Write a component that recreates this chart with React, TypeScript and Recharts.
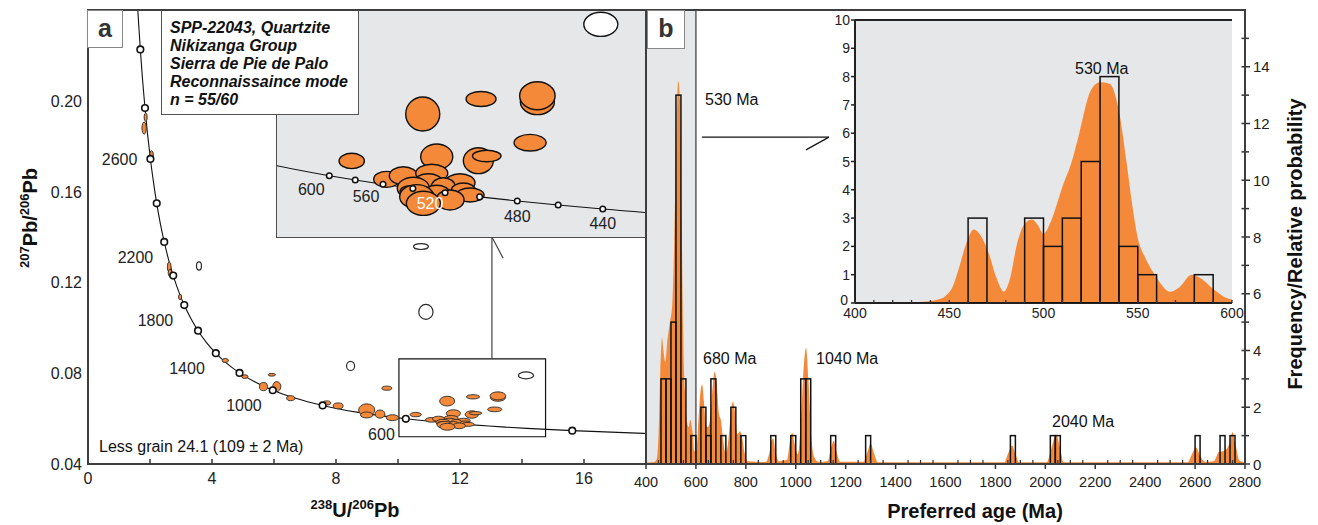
import React from 'react';
import { ComposedChart, Line, Area, Scatter, XAxis, YAxis, ReferenceLine, ReferenceArea } from 'recharts';

const FONT = '"Liberation Sans", Arial, Helvetica, sans-serif';
const ORANGE = '#f5893a';
const PANEL_GRAY = '#e6e7e9';
const FRAME = '#3e3e3e';

// ---------- Panel a data ----------
// Concordia reference curve: [age (Ma), 238U/206Pb, 207Pb/206Pb]
const concordia: [number, number, number][] = [
  [340, 18.465, 0.05327], [350, 17.923, 0.0535], [400, 15.621, 0.0547], [440, 14.157, 0.05569],
  [460, 13.52, 0.0562], [480, 12.936, 0.05671], [500, 12.399, 0.05722], [520, 11.905, 0.05775],
  [540, 11.445, 0.05828], [560, 11.019, 0.05881], [580, 10.622, 0.05935], [600, 10.252, 0.0599],
  [650, 9.426, 0.06131], [700, 8.718, 0.06276], [750, 8.105, 0.06425], [800, 7.568, 0.0658],
  [900, 6.674, 0.06905], [1000, 5.959, 0.0725], [1100, 5.375, 0.07619], [1200, 4.888, 0.08013],
  [1300, 4.476, 0.08432], [1400, 4.123, 0.08881], [1500, 3.817, 0.0936], [1600, 3.55, 0.09872],
  [1700, 3.314, 0.10419], [1800, 3.105, 0.11003], [1900, 2.918, 0.11629], [2000, 2.749, 0.12299],
  [2100, 2.597, 0.13016], [2200, 2.459, 0.13782], [2300, 2.332, 0.14603], [2400, 2.217, 0.15483],
  [2500, 2.111, 0.16427], [2600, 2.013, 0.17438], [2700, 1.922, 0.18523], [2800, 1.838, 0.19682],
  [2900, 1.76, 0.20927], [3000, 1.688, 0.22265], [3100, 1.619, 0.237], [3200, 1.556, 0.2524],
];
const markerAgesMain = [400, 600, 800, 1000, 1200, 1400, 1600, 1800, 2000, 2200, 2400, 2600, 2800, 3000];
const labelAgesMain = [600, 1000, 1400, 1800, 2200, 2600];
const markerAgesInset = [440, 460, 480, 500, 520, 540, 560, 580, 600];
const labelAgesInset = [440, 480, 520, 560, 600];

// grains: [238U/206Pb, 207Pb/206Pb, half-axis x, half-axis y]
const youngGrains: [number, number, number, number][] = [
  [11.586, 0.0677, 0.243, 0.00215],
  [12.419, 0.0696, 0.214, 0.00095],
  [13.223, 0.06926, 0.243, 0.00164],
  [13.223, 0.07001, 0.253, 0.00177],
  [13.119, 0.06407, 0.229, 0.00105],
  [11.786, 0.0623, 0.229, 0.00161],
  [10.572, 0.06176, 0.181, 0.00097],
  [12.38, 0.0618, 0.214, 0.00164],
  [12.5, 0.06239, 0.204, 0.00072],
  [11.072, 0.05944, 0.186, 0.00101],
  [11.309, 0.0599, 0.2, 0.00114],
  [11.715, 0.0602, 0.229, 0.00114],
  [12.119, 0.05901, 0.214, 0.00114],
  [11.666, 0.05914, 0.2, 0.00101],
  [11.88, 0.05851, 0.171, 0.00114],
  [12.166, 0.05809, 0.171, 0.00088],
  [12.262, 0.05746, 0.2, 0.00088],
  [11.452, 0.05831, 0.229, 0.00139],
  [11.405, 0.05788, 0.143, 0.00076],
  [11.786, 0.05768, 0.186, 0.00101],
  [11.976, 0.05683, 0.2, 0.00126],
  [11.5, 0.05725, 0.243, 0.00152],
  [11.595, 0.05641, 0.243, 0.00152],
];
const youngRejected: [number, number, number, number][] = [
  [14.129, 0.07904, 0.243, 0.00152],
];
const oldGrains: [number, number, number, number][] = [
  [1.86, 0.1928, 0.05, 0.0018],
  [1.81, 0.188, 0.07, 0.0027],
  [2.05, 0.1758, 0.06, 0.0022],
  [2.62, 0.1268, 0.06, 0.0022],
  [2.645, 0.1242, 0.06, 0.0015],
  [2.97, 0.1136, 0.05, 0.0012],
  [4.43, 0.0856, 0.1, 0.0009],
  [5.06, 0.0785, 0.1, 0.0008],
  [5.93, 0.0793, 0.12, 0.0006],
  [5.66, 0.0741, 0.13, 0.0018],
  [6.09, 0.0741, 0.13, 0.0022],
  [6.54, 0.069, 0.13, 0.0011],
  [7.7, 0.0669, 0.13, 0.0009],
  [8.07, 0.0656, 0.16, 0.0013],
  [8.99, 0.0638, 0.26, 0.0027],
  [8.99, 0.0616, 0.2, 0.0013],
  [9.42, 0.062, 0.16, 0.0018],
  [9.82, 0.0604, 0.2, 0.0013],
  [9.64, 0.0734, 0.16, 0.0009],
];
const oldRejected: [number, number, number, number][] = [
  [3.58, 0.1272, 0.08, 0.0018],
  [8.47, 0.0832, 0.13, 0.002],
  [10.74, 0.1358, 0.24, 0.0013],
  [10.9, 0.107, 0.23, 0.0033],
];
const xTicksA = [0, 2, 4, 6, 8, 10, 12, 14, 16];
const yTicksA = [0.04, 0.08, 0.12, 0.16, 0.2];

// ---------- Panel b data ----------
// histogram, 20 Ma bins: [bin start (Ma), count]
const mainBins: [number, number][] = [
  [460, 3], [480, 3], [500, 5], [520, 13], [540, 3], [580, 1], [620, 2], [640, 1], [660, 3],
  [700, 1], [740, 2], [780, 1], [900, 1], [980, 1], [1020, 3], [1040, 3], [1140, 1], [1280, 1],
  [1860, 1], [2020, 1], [2040, 1], [2600, 1], [2700, 1], [2740, 1],
];
// relative probability (scaled to the frequency axis): [age, value]
const mainDensity: [number, number][] = [
  [400, 0.05], [430, 0.06], [442, 0.15], [450, 1.0], [457, 3.2], [464, 4.45], [470, 4.0], [477, 3.6],
  [486, 4.4], [496, 5.0], [505, 5.6], [513, 7.8], [521, 11.3], [529, 13.5], [536, 12.8], [543, 8.5],
  [549, 4.6], [556, 2.6], [564, 1.5], [571, 1.3], [578, 1.55], [586, 1.15], [594, 0.45], [602, 0.5],
  [611, 1.7], [619, 2.6], [625, 2.8], [632, 2.2], [640, 1.4], [648, 1.3], [657, 1.6], [666, 2.6],
  [675, 3.25], [683, 2.9], [692, 1.8], [701, 1.5], [710, 0.8], [719, 0.4], [728, 0.7], [738, 1.6],
  [748, 2.2], [757, 1.8], [766, 1.05], [776, 1.15], [785, 0.95], [795, 0.4], [808, 0.1], [880, 0.07],
  [893, 0.35], [904, 0.85], [910, 0.9], [918, 0.5], [932, 0.1], [965, 0.15], [978, 0.9], [986, 1.1],
  [996, 0.7], [1008, 0.35], [1020, 1.4], [1031, 3.3], [1041, 4.1], [1051, 3.0], [1062, 1.0], [1074, 0.25],
  [1090, 0.08], [1128, 0.1], [1141, 0.55], [1152, 0.82], [1163, 0.45], [1178, 0.08], [1272, 0.08],
  [1288, 0.45], [1300, 0.72], [1313, 0.4], [1330, 0.06], [1835, 0.06], [1852, 0.4], [1867, 0.65],
  [1880, 0.35], [1895, 0.06], [2005, 0.06], [2024, 0.55], [2038, 0.95], [2046, 1.0], [2058, 0.6],
  [2074, 0.06], [2570, 0.06], [2590, 0.4], [2604, 0.58], [2620, 0.3], [2640, 0.08], [2675, 0.1],
  [2695, 0.42], [2710, 0.45], [2728, 0.55], [2740, 0.8], [2750, 1.12], [2762, 0.7], [2778, 0.12],
  [2800, 0.05],
];
// inset histogram, 10 Ma bins
const insetBins: [number, number][] = [
  [460, 3], [490, 3], [500, 2], [510, 3], [520, 5], [530, 8], [540, 2], [550, 1], [580, 1],
];
const insetDensity: [number, number][] = [
  [400, 0], [425, 0.01], [438, 0.05], [444, 0.12], [448, 0.25], [452, 0.6], [455, 1.2], [459, 2.1],
  [463, 2.6], [467, 2.35], [471, 1.75], [475, 0.9], [479, 0.4], [482, 0.8], [486, 2.1], [490, 2.8],
  [494, 2.95], [497, 2.75], [500, 2.45], [504, 2.9], [510, 4.1], [515, 5.0], [519, 6.0], [525, 7.5],
  [530, 7.8], [535, 7.75], [540, 6.8], [544, 5.0], [547, 3.5], [550, 2.3], [554, 1.6], [558, 1.1],
  [562, 0.7], [567, 0.4], [572, 0.55], [578.6, 1.0], [584, 0.85], [590, 0.5], [595, 0.25], [600, 0.12],
];
const highlightRange: [number, number] = [400, 600];
const xTicksBMajorStep = 200;
const xTicksB = Array.from({ length: 49 }, (_, i) => 400 + 50 * i);
const yTicksB = Array.from({ length: 16 }, (_, i) => i);
const xTicksInset = Array.from({ length: 21 }, (_, i) => 400 + 10 * i);
const yTicksInset = [0, 1, 2, 3, 4, 5, 6, 7, 8, 9, 10];

// ---------- geometry ----------
const A_DOM_X: [number, number] = [0, 18];
const A_DOM_Y: [number, number] = [0.04, 0.24];
const IA_DOM_X: [number, number] = [9.505, 14.76];
const IA_DOM_Y: [number, number] = [0.05215, 0.08085];
const kxA = 558 / (A_DOM_X[1] - A_DOM_X[0]);
const kyA = 454 / (A_DOM_Y[1] - A_DOM_Y[0]);
const kxIA = 368 / (IA_DOM_X[1] - IA_DOM_X[0]);
const kyIA = 227 / (IA_DOM_Y[1] - IA_DOM_Y[0]);
const kxB = 599 / 2400;
const kyB = 454 / 16;
const kxIB = 377 / 200;
const kyIB = 283 / 10;

const toXY = (rows: [number, number][]) => rows.map(([x, y]) => ({ x, y }));
const grainRows = (rows: [number, number, number, number][]) =>
  rows.map(([x, y, sx, sy]) => ({ x, y, sx, sy }));
const concordiaLine = [...concordia].sort((a, b) => a[1] - b[1]).map(([age, x, y]) => ({ age, x, y }));
const markerRows = (ages: number[], labels: number[]) =>
  concordia.filter((c) => ages.includes(c[0])).map(([age, x, y]) => ({ age, x, y, label: labels.includes(age) }));

const ellipseShape = (kx: number, ky: number, fill: string, stroke: string, sw: number) => (p: any) => (
  <ellipse cx={p.cx} cy={p.cy} rx={p.payload.sx * kx} ry={p.payload.sy * ky} fill={fill} stroke={stroke} strokeWidth={sw} />
);

const mainLabelOffset = (age: number) => (age === 2600 ? [-13, 6] : [-11, 21]);
const mainMarkerShape = (p: any) => (
  <g>
    <circle cx={p.cx} cy={p.cy} r={3.3} fill="#fff" stroke="#111" strokeWidth={1.6} />
    {p.payload.label && (
      <text x={p.cx + mainLabelOffset(p.payload.age)[0]} y={p.cy + mainLabelOffset(p.payload.age)[1]} textAnchor="end"
        fontSize={16} fontFamily={FONT} fill="#222">{p.payload.age}</text>
    )}
  </g>
);
const insetLabelOffset: Record<number, [number, number]> = {
  600: [-18, 19], 560: [-17, 18], 520: [-15, 16], 480: [0, 21], 440: [0, 20],
};
const insetMarkerShape = (p: any) => (
  <g>
    <circle cx={p.cx} cy={p.cy} r={2.8} fill="#fff" stroke="#111" strokeWidth={1.5} />
    {p.payload.label && (
      <text x={p.cx + insetLabelOffset[p.payload.age][0]} y={p.cy + insetLabelOffset[p.payload.age][1]} textAnchor="middle"
        fontSize={16} fontFamily={FONT} fill={p.payload.age === 520 ? '#fff' : '#222'}>{p.payload.age}</text>
    )}
  </g>
);
const histShape = (bin: number, kx: number, ky: number) => (p: any) => (
  <rect x={p.cx} y={p.cy} width={bin * kx} height={p.payload.y * ky} fill="none" stroke="#111" strokeWidth={1.5} />
);

// ---------- ticks ----------
const TickXA = (p: any) => {
  const v = p.payload.value;
  return (
    <g>
      <line x1={p.x} x2={p.x} y1={p.y} y2={p.y - 5} stroke="#333" strokeWidth={1.5} />
      {v % 4 === 0 && (
        <text x={p.x} y={p.y + 20} textAnchor="middle" fontSize={16} fontFamily={FONT} fill="#222">{v}</text>
      )}
    </g>
  );
};
const TickYA = (p: any) => (
  <text x={p.x - 6} y={p.y + 6} textAnchor="end" fontSize={16} fontFamily={FONT} fill="#222">
    {Number(p.payload.value).toFixed(2)}
  </text>
);
const TickXB = (p: any) => {
  const v = p.payload.value;
  const major = v % xTicksBMajorStep === 0;
  return (
    <g>
      {major ? (
        <line x1={p.x} x2={p.x} y1={p.y} y2={p.y + 5} stroke="#333" strokeWidth={1.5} />
      ) : (
        <line x1={p.x} x2={p.x} y1={p.y} y2={p.y - 4} stroke="#333" strokeWidth={1.2} />
      )}
      {major && (
        <text x={p.x} y={p.y + 23} textAnchor="middle" fontSize={14.5} fontFamily={FONT} fill="#222">{v}</text>
      )}
    </g>
  );
};
const TickYB = (p: any) => {
  const v = p.payload.value;
  const even = v % 2 === 0;
  return (
    <g>
      <line x1={p.x - 3.5} x2={p.x + (even ? 5 : 4)} y1={p.y} y2={p.y} stroke="#333" strokeWidth={1.5} />
      {even && (
        <text x={p.x + 8} y={p.y + 5.5} textAnchor="start" fontSize={15} fontFamily={FONT} fill="#222">{v}</text>
      )}
    </g>
  );
};
const TickXIB = (p: any) => {
  const v = p.payload.value;
  return (
    <g>
      <line x1={p.x} x2={p.x} y1={p.y} y2={p.y - 3} stroke="#333" strokeWidth={1.3} />
      {v % 50 === 0 && (
        <text x={p.x} y={p.y + 15} textAnchor="middle" fontSize={14} fontFamily={FONT} fill="#222">{v}</text>
      )}
    </g>
  );
};
const TickYIB = (p: any) => (
  <g>
    <line x1={p.x - 4} x2={p.x} y1={p.y} y2={p.y} stroke="#222" strokeWidth={1.5} />
    <text x={p.x - (p.payload.value === 0 ? 7 : 5)} y={p.y + (p.payload.value === 0 ? 1.5 : 5)} textAnchor="end" fontSize={14}
      fontFamily={FONT} fill="#222">{p.payload.value}</text>
  </g>
);

const abs = (left: number, top: number, extra: React.CSSProperties = {}): React.CSSProperties => ({
  position: 'absolute', left, top, ...extra,
});

export default function App() {
  const allMainGrains = [...grainRows(oldGrains), ...grainRows(youngGrains)];
  const allMainRejected = [...grainRows(oldRejected), ...grainRows(youngRejected)];
  return (
    <div style={{ position: 'absolute', left: 0, top: 0, width: 1318, height: 525, background: '#fff', fontFamily: FONT, overflow: 'hidden' }}>
      {/* Panel b main */}
      <div style={abs(600, 0)}>
        <ComposedChart width={718} height={525} margin={{ top: 10, right: 0, left: 46, bottom: 0 }}>
          <XAxis type="number" dataKey="x" domain={[400, 2800]} ticks={xTicksB} tick={TickXB} tickLine={false}
            axisLine={false} height={61} tickSize={0} tickMargin={0} interval={0} allowDataOverflow />
          <YAxis type="number" orientation="right" domain={[0, 16]} ticks={yTicksB} tick={TickYB} tickLine={false}
            axisLine={false} width={73} tickSize={0} tickMargin={0} interval={0} allowDataOverflow />
          <Area data={highlightRange.map((x) => ({ x, y: 16 }))} dataKey="y" type="linear" fill={PANEL_GRAY}
            fillOpacity={1} stroke="none" isAnimationActive={false} dot={false} activeDot={false} />
          <Area data={toXY(mainDensity)} dataKey="y" type="monotone" fill={ORANGE} fillOpacity={1} stroke="none"
            isAnimationActive={false} dot={false} activeDot={false} />
          <ReferenceLine x={highlightRange[1]} stroke="#5c5c5c" strokeWidth={1.5} />
          <ReferenceLine segment={[{ x: 624, y: 11.52 }, { x: 1133, y: 11.52 }]} stroke="#111" strokeWidth={1.2} />
          <ReferenceLine segment={[{ x: 1133, y: 11.52 }, { x: 1041, y: 11.07 }]} stroke="#111" strokeWidth={1.2} />
          <Scatter data={toXY(mainBins)} dataKey="y" shape={histShape(20, kxB, kyB)} isAnimationActive={false} />
        </ComposedChart>
      </div>

      {/* Panel a main */}
      <div style={abs(0, 0)}>
        <ComposedChart width={660} height={525} margin={{ top: 10, right: 14, left: 0, bottom: 0 }}>
          <XAxis type="number" dataKey="x" domain={A_DOM_X} ticks={xTicksA} tick={TickXA} tickLine={false}
            axisLine={false} height={61} tickSize={0} tickMargin={0} interval={0} allowDataOverflow />
          <YAxis type="number" domain={A_DOM_Y} ticks={yTicksA} tick={TickYA} tickLine={false}
            axisLine={false} width={88} tickSize={0} tickMargin={0} interval={0} allowDataOverflow />
          <ReferenceArea x1={10.03} x2={14.76} y1={0.052} y2={0.0863} fill="none" stroke="#111" strokeWidth={1.2} />
          <ReferenceLine segment={[{ x: 13.03, y: 0.14 }, { x: 13.03, y: 0.0863 }]} stroke="#444" strokeWidth={1.2} />
          <ReferenceLine segment={[{ x: 13.03, y: 0.14 }, { x: 13.39, y: 0.1307 }]} stroke="#444" strokeWidth={1.2} />
          <Line data={concordiaLine} dataKey="y" type="monotone" stroke="#111" strokeWidth={1.1} dot={false}
            activeDot={false} isAnimationActive={false} />
          <Scatter data={allMainGrains} dataKey="y" shape={ellipseShape(kxA, kyA, ORANGE, '#2a2a2a', 0.9)} isAnimationActive={false} />
          <Scatter data={allMainRejected} dataKey="y" shape={ellipseShape(kxA, kyA, '#fff', '#2a2a2a', 1.2)} isAnimationActive={false} />
          <Scatter data={markerRows(markerAgesMain, labelAgesMain)} dataKey="y" shape={mainMarkerShape} isAnimationActive={false} />
        </ComposedChart>
      </div>

      {/* Panel a inset */}
      <div style={abs(277, 10, { width: 368, height: 227, background: PANEL_GRAY })}>
        <ComposedChart width={368} height={227} margin={{ top: 0, right: 0, left: 0, bottom: 0 }}>
          <XAxis type="number" dataKey="x" domain={IA_DOM_X} hide height={0} allowDataOverflow />
          <YAxis type="number" domain={IA_DOM_Y} hide width={0} allowDataOverflow />
          <Line data={concordiaLine} dataKey="y" type="monotone" stroke="#111" strokeWidth={1.1} dot={false}
            activeDot={false} isAnimationActive={false} />
          <Scatter data={grainRows(youngGrains)} dataKey="y" shape={ellipseShape(kxIA, kyIA, ORANGE, '#111', 1.4)} isAnimationActive={false} />
          <Scatter data={grainRows(youngRejected)} dataKey="y" shape={ellipseShape(kxIA, kyIA, '#fff', '#111', 1.4)} isAnimationActive={false} />
          <Scatter data={markerRows(markerAgesInset, labelAgesInset)} dataKey="y" shape={insetMarkerShape} isAnimationActive={false} />
        </ComposedChart>
      </div>
      <div style={abs(276.25, 9.25, { width: 369.5, height: 228.5, border: '1.5px solid #4d4d4d', boxSizing: 'border-box' })} />

      {/* Sample text box */}
      <div style={abs(161, 10, {
        width: 198, height: 105, background: '#fff', border: '1.5px solid #555', boxSizing: 'border-box',
        padding: '8px 0 0 8px', fontWeight: 'bold', fontStyle: 'italic', fontSize: 16, lineHeight: '18px', color: '#111',
        whiteSpace: 'nowrap',
      })}>
        <div>SPP-22043, Quartzite</div>
        <div>Nikizanga Group</div>
        <div>Sierra de Pie de Palo</div>
        <div>Reconnaissaince mode</div>
        <div>n = 55/60</div>
      </div>

      {/* Panel b inset */}
      <div style={abs(790, 0)}>
        <ComposedChart width={462} height={333} margin={{ top: 20, right: 20, left: 0, bottom: 0 }}>
          <XAxis type="number" dataKey="x" domain={[400, 600]} ticks={xTicksInset} tick={TickXIB} tickLine={false}
            axisLine={{ stroke: '#222', strokeWidth: 2 }} height={30} tickSize={0} tickMargin={0} interval={0} allowDataOverflow />
          <YAxis type="number" domain={[0, 10]} ticks={yTicksInset} tick={TickYIB} tickLine={false}
            axisLine={{ stroke: '#222', strokeWidth: 2 }} width={65} tickSize={0} tickMargin={0} interval={0} allowDataOverflow />
          <Area data={[{ x: 400, y: 10 }, { x: 600, y: 10 }]} dataKey="y" type="linear" fill={PANEL_GRAY} fillOpacity={1}
            stroke="none" isAnimationActive={false} dot={false} activeDot={false} />
          <Area data={toXY(insetDensity)} dataKey="y" type="monotone" fill={ORANGE} fillOpacity={1} stroke="none"
            isAnimationActive={false} dot={false} activeDot={false} />
          <Scatter data={toXY(insetBins)} dataKey="y" shape={histShape(10, kxIB, kyIB)} isAnimationActive={false} />
        </ComposedChart>
      </div>
      <div style={abs(855, 19, { width: 377, height: 2, background: '#222' })} />

      {/* Frames */}
      <div style={abs(86.75, 8.75, { width: 560.5, height: 456.5, border: `2.5px solid ${FRAME}`, boxSizing: 'border-box' })} />
      <div style={abs(644.75, 8.75, { width: 601.5, height: 456.5, border: `2.5px solid ${FRAME}`, boxSizing: 'border-box' })} />

      {/* Panel letters */}
      <div style={abs(87, 10, { width: 36, height: 38, background: '#fff', border: '1.5px solid #888', boxSizing: 'border-box',
        fontWeight: 'bold', fontSize: 25, lineHeight: '34px', textAlign: 'center', color: '#333' })}>a</div>
      <div style={abs(647, 10, { width: 38, height: 39, background: '#fff', border: '1.5px solid #888', boxSizing: 'border-box',
        fontWeight: 'bold', fontSize: 25, lineHeight: '35px', textAlign: 'center', color: '#333' })}>b</div>

      {/* Titles and annotations */}
      <svg width={1318} height={525} style={abs(0, 0, { pointerEvents: 'none' })}>
        <g fontFamily={FONT} fill="#111">
          <text transform="translate(37,218) rotate(-90)" textAnchor="middle" fontWeight="bold" fontSize={20}>
            <tspan fontSize={13} dy={-8}>207</tspan><tspan dy={8}>Pb/</tspan>
            <tspan fontSize={13} dy={-8}>206</tspan><tspan dy={8}>Pb</tspan>
          </text>
          <text x={355} y={517} textAnchor="middle" fontWeight="bold" fontSize={20}>
            <tspan fontSize={13} dy={-8}>238</tspan><tspan dy={8}>U/</tspan>
            <tspan fontSize={13} dy={-8}>206</tspan><tspan dy={8}>Pb</tspan>
          </text>
          <text x={975} y={518} textAnchor="middle" fontWeight="bold" fontSize={20}>Preferred age (Ma)</text>
          <text transform="translate(1302,244) rotate(-90)" textAnchor="middle" fontWeight="bold" fontSize={20}>
            Frequency/Relative probability
          </text>
          <text x={99} y={452} fontSize={16}>Less grain 24.1 (109 ± 2 Ma)</text>
          <text x={705} y={105} fontSize={16}>530 Ma</text>
          <text x={703} y={364} fontSize={16}>680 Ma</text>
          <text x={816} y={364} fontSize={16}>1040 Ma</text>
          <text x={1052} y={427} fontSize={16}>2040 Ma</text>
          <text x={1075} y={74} fontSize={16}>530 Ma</text>
        </g>
      </svg>
    </div>
  );
}
